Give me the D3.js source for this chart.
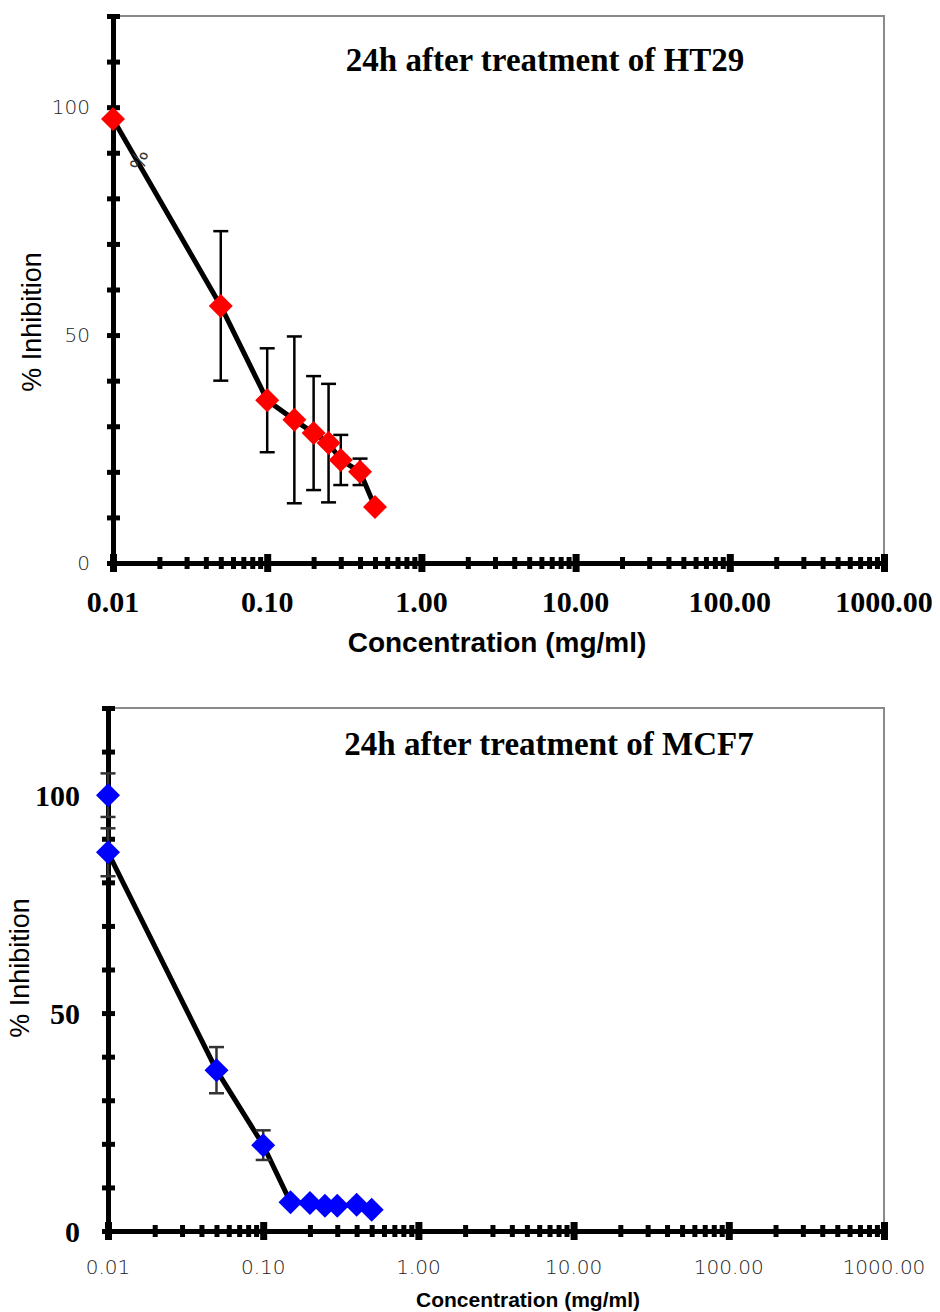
<!DOCTYPE html>
<html>
<head>
<meta charset="utf-8">
<script src="https://cdn.jsdelivr.net/npm/d3@7"></script>
<style>
  body { margin: 0; background: #fff; }
  svg { display: block; }
</style>
</head>
<body>
<script>
var width = 940;
var height = 1312;

// x values (mg/ml)
var ht29Conc = [0.01, 0.05, 0.10, 0.15, 0.20, 0.25, 0.30, 0.40, 0.50];
var ht29Inhib = [97.4, 56.4, 35.7, 31.4, 28.5, 26.3, 22.6, 20.0, 12.3];
var ht29Err = [0, 16.4, 11.4, 18.3, 12.5, 13.0, 5.5, 2.9, 0];

var mcf7Conc = [0.01, 0.01, 0.05, 0.10, 0.15, 0.20, 0.25, 0.30, 0.40, 0.50];
var mcf7Inhib = [100, 86.9, 36.9, 19.7, 6.6, 6.4, 5.8, 5.8, 6.0, 4.9];
var mcf7Err = [5, 5.5, 5.3, 3.4, 0, 0, 0, 0, 0, 0];

var xTickValues = [0.01, 0.1, 1, 10, 100, 1000];
var yTickValues = [0, 50, 100];
var yDomain = [0, 120];

var svg = d3.select("body").append("svg")
  .attr("width", width)
  .attr("height", height);

function minorTicks() {
  var t = [];
  for (var e = -2; e < 3; e++) {
    for (var m = 1; m <= 9; m++) t.push(m * Math.pow(10, e));
  }
  t.push(1000);
  return t;
}

function drawPanel(opt) {
  var g = svg.append("g");
  var x = d3.scaleLog().domain([0.01, 1000]).range([opt.left, opt.right]);
  var y = d3.scaleLinear().domain(yDomain).range([opt.bottom, opt.top]);

  // frame (top and right)
  g.append("path")
    .attr("d", "M" + opt.left + "," + opt.top + "H" + opt.right + "V" + opt.bottom)
    .attr("fill", "none")
    .attr("stroke", "#8a8a8a")
    .attr("stroke-width", 2);

  // x axis
  var xa = g.append("g")
    .attr("transform", "translate(0," + opt.bottom + ")")
    .call(d3.axisBottom(x).tickValues(minorTicks()).tickFormat("").tickSizeOuter(0));
  xa.select(".domain").attr("stroke", "#000").attr("stroke-width", 5);
  xa.selectAll(".tick line")
    .attr("stroke", "#000")
    .attr("stroke-width", function(d) { return xTickValues.indexOf(d) >= 0 ? 7 : 5; })
    .attr("y1", function(d) { return xTickValues.indexOf(d) >= 0 ? -9 : -6; })
    .attr("y2", function(d) { return xTickValues.indexOf(d) >= 0 ? 9 : 6; });

  g.selectAll(".xlab")
    .data(xTickValues)
    .enter().append("text")
    .attr("x", function(d) { return x(d); })
    .attr("y", opt.bottom + opt.xLabDy)
    .attr("text-anchor", "middle")
    .style("font-family", opt.xLabFont)
    .style("font-weight", opt.xLabWeight)
    .style("font-size", opt.xLabSize + "px")
    .attr("fill", opt.xLabColor)
    .text(function(d) { return d3.format(".2f")(d); });

  // y axis
  var ya = g.append("g")
    .attr("transform", "translate(" + opt.left + ",0)")
    .call(d3.axisLeft(y).tickValues(d3.range(0, 121, 10)).tickFormat("").tickSizeOuter(0));
  ya.select(".domain").attr("stroke", "#000").attr("stroke-width", 5);
  ya.selectAll(".tick line")
    .attr("stroke", "#000")
    .attr("stroke-width", 5)
    .attr("x1", -6)
    .attr("x2", 7);

  g.selectAll(".ylab")
    .data(yTickValues)
    .enter().append("text")
    .attr("x", opt.left + opt.yLabDx)
    .attr("y", function(d) { return y(d); })
    .attr("dy", "0.35em")
    .attr("text-anchor", "end")
    .style("font-family", opt.yLabFont)
    .style("font-weight", opt.yLabWeight)
    .style("font-size", opt.yLabSize + "px")
    .attr("fill", opt.yLabColor)
    .text(function(d) { return d; });

  // axis titles
  g.append("text")
    .attr("x", opt.xTitleX)
    .attr("y", opt.xTitleY)
    .attr("text-anchor", "middle")
    .style("font-family", "Liberation Sans, Arial, sans-serif")
    .style("font-weight", "bold")
    .style("font-size", opt.xTitleSize + "px")
    .text("Concentration (mg/ml)");

  g.append("text")
    .attr("transform", "translate(" + opt.yTitleX + "," + opt.yTitleY + ") rotate(-90)")
    .attr("text-anchor", "middle")
    .style("font-family", "Liberation Sans, Arial, sans-serif")
    .style("font-size", "27px")
    .text("% Inhibition");

  // chart title
  g.append("text")
    .attr("x", opt.titleX)
    .attr("y", opt.titleY)
    .attr("text-anchor", "middle")
    .style("font-family", "Liberation Serif, Times New Roman, serif")
    .style("font-weight", "bold")
    .style("font-size", "33px")
    .text(opt.title);

  var pts = opt.conc.map(function(c, i) {
    return { c: c, v: opt.inhib[i], e: opt.err[i] };
  });

  // series line
  var line = d3.line()
    .x(function(d) { return x(d.c); })
    .y(function(d) { return y(d.v); });
  g.append("path")
    .datum(pts.slice(opt.lineStart))
    .attr("d", line)
    .attr("fill", "none")
    .attr("stroke", "#000")
    .attr("stroke-width", 5);

  // error bars
  var eb = g.selectAll(".err")
    .data(pts.filter(function(d) { return d.e > 0; }))
    .enter().append("g")
    .attr("stroke", opt.errColor)
    .attr("stroke-width", 2.5);
  eb.append("line")
    .attr("x1", function(d) { return x(d.c); })
    .attr("x2", function(d) { return x(d.c); })
    .attr("y1", function(d) { return y(d.v - d.e); })
    .attr("y2", function(d) { return y(d.v + d.e); });
  eb.selectAll(".cap")
    .data(function(d) { return [[d.c, d.v - d.e], [d.c, d.v + d.e]]; })
    .enter().append("line")
    .attr("x1", function(d) { return x(d[0]) - 7.5; })
    .attr("x2", function(d) { return x(d[0]) + 7.5; })
    .attr("y1", function(d) { return y(d[1]); })
    .attr("y2", function(d) { return y(d[1]); });

  // diamond markers
  var r = 12;
  g.selectAll(".pt")
    .data(pts)
    .enter().append("path")
    .attr("d", function(d) {
      var cx = x(d.c), cy = y(d.v);
      return "M" + cx + "," + (cy - r) + "L" + (cx + r) + "," + cy +
        "L" + cx + "," + (cy + r) + "L" + (cx - r) + "," + cy + "Z";
    })
    .attr("fill", opt.color);

  return { x: x, y: y, g: g };
}

var p1 = drawPanel({
  left: 113, right: 884, top: 16, bottom: 563,
  conc: ht29Conc, inhib: ht29Inhib, err: ht29Err, lineStart: 0,
  color: "#ff0000", errColor: "#000",
  title: "24h after treatment of HT29", titleX: 545, titleY: 71,
  xLabDy: 49, xLabFont: "Liberation Serif, serif", xLabWeight: "bold", xLabSize: 30, xLabColor: "#000",
  yLabDx: -23, yLabFont: "DejaVu Sans, sans-serif", yLabWeight: 300, yLabSize: 20, yLabColor: "#222",
  xTitleX: 497, xTitleY: 652, xTitleSize: 28,
  yTitleX: 41, yTitleY: 322
});

// stray rotated percent glyph seen in the original
p1.g.append("text")
  .attr("transform", "translate(" + (p1.x(0.014) + 8) + "," + p1.y(86) + ") rotate(-75)")
  .style("font-family", "DejaVu Sans, sans-serif")
  .style("font-size", "20px")
  .attr("fill", "#333")
  .text("%");

drawPanel({
  left: 108, right: 884, top: 708, bottom: 1231,
  conc: mcf7Conc, inhib: mcf7Inhib, err: mcf7Err, lineStart: 1,
  color: "#0000ff", errColor: "#333",
  title: "24h after treatment of MCF7", titleX: 549, titleY: 755,
  xLabDy: 43, xLabFont: "DejaVu Sans, sans-serif", xLabWeight: 300, xLabSize: 20, xLabColor: "#222",
  yLabDx: -28, yLabFont: "Liberation Serif, serif", yLabWeight: "bold", yLabSize: 30, yLabColor: "#000",
  xTitleX: 528, xTitleY: 1307, xTitleSize: 21,
  yTitleX: 29, yTitleY: 968
});
</script>
</body>
</html>
